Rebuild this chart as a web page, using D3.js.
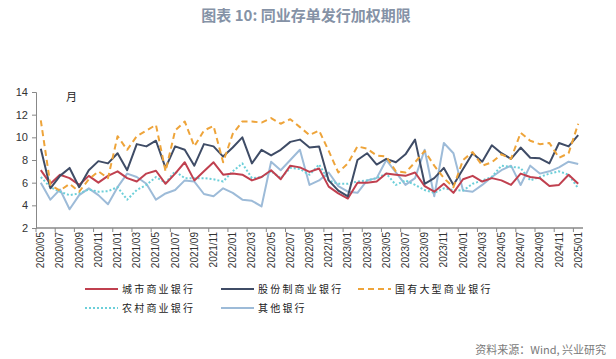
<!DOCTYPE html>
<html><head><meta charset="utf-8">
<script src="https://cdn.jsdelivr.net/npm/d3@7"></script>
<style>
html,body{margin:0;padding:0;background:#fff;}
svg{display:block;font-family:"Noto Sans CJK SC","Noto Sans",sans-serif;}
</style></head>
<body><svg id="c" width="616" height="359"></svg>
<script>
const categories = ["2020/05","2020/06","2020/07","2020/08","2020/09","2020/10","2020/11","2020/12",
"2021/01","2021/02","2021/03","2021/04","2021/05","2021/06","2021/07","2021/08","2021/09","2021/10","2021/11","2021/12",
"2022/01","2022/02","2022/03","2022/04","2022/05","2022/06","2022/07","2022/08","2022/09","2022/10","2022/11","2022/12",
"2023/01","2023/02","2023/03","2023/04","2023/05","2023/06","2023/07","2023/08","2023/09","2023/10","2023/11","2023/12",
"2024/01","2024/02","2024/03","2024/04","2024/05","2024/06","2024/07","2024/08","2024/09","2024/10","2024/11","2024/12","2025/01"];
const cityBank = [7.1,5.9,6.7,6.4,5.8,6.6,6.0,6.6,7.0,6.4,6.1,6.8,7.05,5.9,6.8,7.8,6.2,7.0,7.8,6.7,
6.8,6.7,6.2,6.5,7.1,6.3,7.5,7.35,6.95,7.25,5.65,5.05,4.6,6.0,6.0,6.1,6.8,6.7,6.6,6.9,
5.7,5.2,5.9,5.1,6.3,6.6,6.1,6.4,6.2,5.8,6.8,6.5,6.4,5.7,5.8,6.7,5.9];
const jointStock = [9.0,5.5,6.6,7.3,5.6,7.1,7.9,7.7,8.6,7.1,9.4,9.2,9.7,7.3,9.2,8.9,7.5,9.4,9.2,8.3,
9.1,10.0,7.7,8.9,8.4,8.9,9.6,9.8,9.1,9.2,6.2,5.3,4.8,8.0,8.6,7.6,8.1,7.8,8.5,9.8,
5.9,6.4,7.3,5.8,7.2,8.6,7.85,9.3,8.6,8.1,9.1,8.2,8.15,7.7,9.5,9.2,10.2];
const stateOwned = [11.5,5.8,5.3,5.9,5.2,6.3,7.0,6.4,10.1,8.9,10.1,10.6,11.1,7.0,10.6,11.4,9.2,10.6,11.0,7.8,
10.3,11.4,11.4,11.3,11.7,11.2,11.6,10.9,10.2,10.6,8.8,6.9,7.7,9.2,9.0,8.4,8.3,7.0,6.9,7.8,
8.8,7.5,6.4,5.6,8.0,8.7,7.5,7.8,8.5,8.1,10.4,9.7,9.4,9.5,8.2,8.6,11.2];
const ruralBank = [6.5,5.6,5.2,4.9,5.05,5.4,5.2,5.25,5.6,4.5,5.35,5.8,6.5,6.0,7.0,6.4,6.4,6.4,6.3,6.1,
7.0,7.7,6.4,6.5,7.0,6.4,7.3,7.2,6.7,7.6,6.2,5.9,5.9,6.1,6.2,6.4,6.8,5.8,6.2,5.8,
5.35,5.1,5.5,5.35,5.3,5.9,6.2,6.5,7.5,7.4,7.3,6.2,6.5,6.8,7.0,6.7,5.5];
const otherBank = [6.0,4.5,5.4,3.65,4.9,5.5,4.9,4.1,5.6,6.8,6.5,5.9,4.5,5.05,5.35,6.2,6.1,5.0,4.8,5.5,
5.1,4.5,4.4,3.9,7.85,7.1,8.0,8.9,5.8,6.2,6.9,5.7,5.2,5.1,6.2,6.4,8.0,6.9,5.8,6.4,
8.9,4.8,9.5,8.6,5.3,5.2,5.8,6.5,7.1,7.5,5.8,7.5,6.8,7.0,7.35,7.85,7.65];
const seriesNames = ["城市商业银行","股份制商业银行","国有大型商业银行","农村商业银行","其他银行"];
const yTicks = [2,4,6,8,10,12,14];
const titleText = "图表 10: 同业存单发行加权期限";
const unitText = "月";
const sourceText = "资料来源：Wind, 兴业研究";

const series = [
  {name: seriesNames[0], values: cityBank,   color: "#c0404f", dash: null,  w: 2},
  {name: seriesNames[1], values: jointStock, color: "#3f4c66", dash: null,  w: 2},
  {name: seriesNames[2], values: stateOwned, color: "#eea43a", dash: "6,4", w: 2},
  {name: seriesNames[3], values: ruralBank,  color: "#6ccfd9", dash: "2,2", w: 2},
  {name: seriesNames[4], values: otherBank,  color: "#9dbbd8", dash: null,  w: 2}
];
const drawOrder = [4,3,0,1,2];

const svg = d3.select("#c");
const x = d3.scaleBand().domain(categories).range([36, 583]).padding(0);
const y = d3.scaleLinear().domain([2,14]).range([228, 92]);
const cx = c => x(c) + x.bandwidth()/2;

svg.append("text").attr("x", 306).attr("y", 21).attr("text-anchor","middle")
  .attr("font-size", 15).attr("font-weight","bold").attr("fill","#8592a6").text(titleText);

const yAxis = svg.append("g").attr("transform","translate(36,0)")
  .call(d3.axisLeft(y).tickValues(yTicks).tickSize(4).tickPadding(4).tickFormat(d3.format("d")));
yAxis.select(".domain").attr("stroke","#888").attr("stroke-width",1);
yAxis.selectAll(".tick line").attr("stroke","#888");
yAxis.selectAll(".tick text").attr("font-size",11).attr("fill","#333").attr("font-family","Liberation Sans, Arial, sans-serif");

svg.append("text").attr("x", 66).attr("y", 101).attr("font-size", 11).attr("fill","#222").text(unitText);

const xg = svg.append("g");
xg.append("line").attr("x1", 36).attr("x2", 583).attr("y1", y(2)).attr("y2", y(2))
  .attr("stroke","#888").attr("stroke-width",1.5);
const labelCats = categories.filter((c,i)=> i%2===0);
xg.selectAll("line.tk").data(labelCats).enter().append("line").attr("class","tk")
  .attr("x1", d=>x(d)).attr("x2", d=>x(d)).attr("y1", y(2)).attr("y2", y(2)+4)
  .attr("stroke","#888").attr("stroke-width",1);
xg.selectAll("text.xl").data(labelCats).enter().append("text").attr("class","xl")
  .attr("transform", d=>`translate(${cx(d)+3.5},${y(2)+4}) rotate(-90)`)
  .attr("text-anchor","end").attr("font-size",10).attr("fill","#333")
  .attr("font-family","Liberation Sans, Arial, sans-serif").text(d=>d);

const line = d3.line().x((d,i)=>cx(categories[i])).y(d=>y(d));
drawOrder.forEach(k=>{
  const s = series[k];
  svg.append("path").datum(s.values).attr("d", line).attr("fill","none")
    .attr("stroke", s.color).attr("stroke-width", s.w)
    .attr("stroke-dasharray", s.dash).attr("stroke-linejoin","round");
});

const legendPos = [[85,289],[221,289],[358,289],[85,308],[221,308]];
series.forEach((s,k)=>{
  const [lx,ly] = legendPos[k];
  svg.append("line").attr("x1",lx).attr("x2",lx+33).attr("y1",ly).attr("y2",ly)
    .attr("stroke",s.color).attr("stroke-width",2).attr("stroke-dasharray",s.dash);
  svg.append("text").attr("x",lx+37).attr("y",ly+4).attr("font-size",10)
    .attr("letter-spacing","2.2px").attr("fill","#222").text(s.name);
});

svg.append("text").attr("x",606).attr("y",354).attr("text-anchor","end")
  .attr("font-size",11).attr("fill","#7a7a7a").text(sourceText);
</script></body></html>
